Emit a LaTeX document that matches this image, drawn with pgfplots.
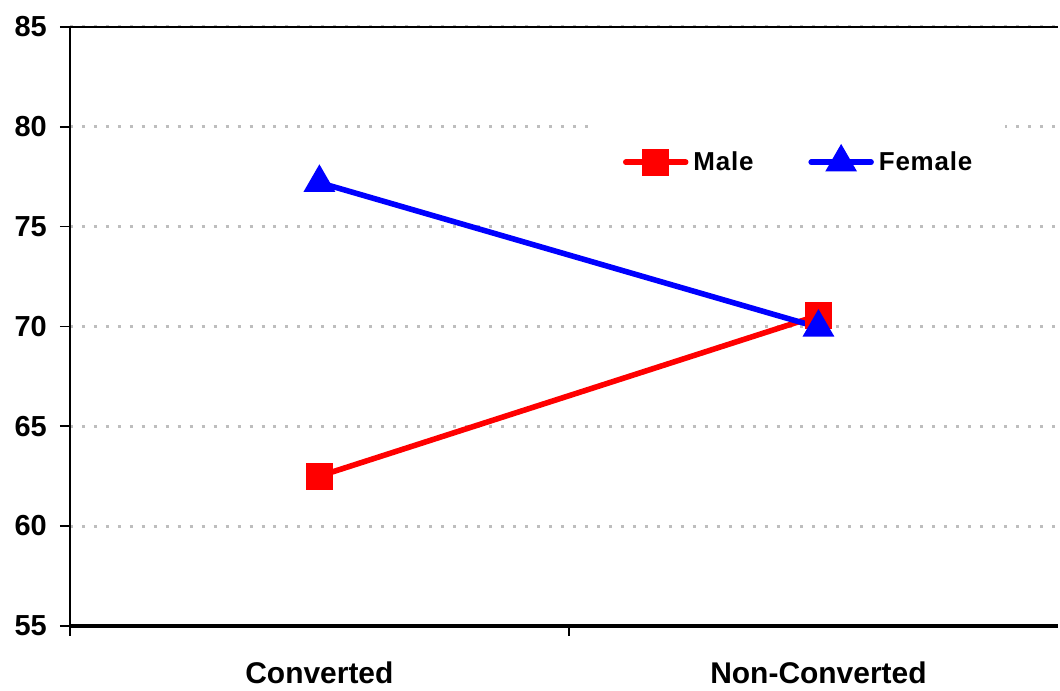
\documentclass[border=0pt]{standalone}
\usepackage{pgfplots}
\pgfplotsset{compat=1.18}
\usepackage{fontspec}
\setmainfont{Liberation Sans}
\definecolor{gridgray}{RGB}{190,190,190}
\begin{document}
\begin{tikzpicture}
\begin{axis}[
  name=ax,
  scale only axis,
  width=495pt, height=300pt,
  xmin=0, xmax=1.98,
  ymin=55, ymax=85,
  clip=false,
  axis x line=bottom, axis y line=left,
  x axis line style={-, line width=2pt},
  y axis line style={-, line width=1pt},
  ytick={55,60,...,85},
  xtick={0,1,2},
  xticklabels={},
  tick align=outside,
  major tick length=5pt,
  every tick/.style={black, line width=0.8pt},
  /pgf/number format/assume math mode=true,
  yticklabel style={font=\bfseries\fontsize{14.5}{14.5}\selectfont, xshift=-3pt},
  extra x ticks={0.5,1.5},
  extra x tick labels={Converted,Non-Converted},
  extra x tick style={major tick length=0pt, grid=none,
     tick label style={font=\bfseries\fontsize{15}{15}\selectfont, yshift=-14.5pt}},
  ymajorgrids,
  major grid style={gridgray, line width=1.5pt, dash pattern=on 1.5pt off 4.5pt},
  legend columns=2,
  legend style={at={(rel axis cs:0.739,0.774)}, anchor=center, draw=none, fill=white,
    inner xsep=14pt, inner ysep=12pt,
    font=\bfseries\fontsize{13}{13}\selectfont\addfontfeatures{LetterSpace=3},
    nodes={inner xsep=2.5pt},
    /tikz/every even column/.append style={column sep=25pt}},
  legend image code/.code={\draw[mark repeat=2,mark phase=2,#1] plot coordinates {(0pt,0pt) (15pt,0pt) (30pt,0pt)};},
]
\addplot[red, line width=2.8pt, line cap=round, mark=square*, mark size=5.4pt, mark options={solid, draw=none, fill=red}]
  coordinates {(0.5,62.5) (1.5,70.55)};
\addlegendentry{Male}
\addplot[blue, line width=2.8pt, line cap=round, mark=triangle*, mark size=6.4pt, mark options={solid, draw=none, fill=blue}]
  coordinates {(0.5,77.2) (1.5,69.95)};
\addlegendentry{Female}
\draw[black, line width=1pt] (axis cs:0,85) -- (axis cs:1.98,85);
\end{axis}
\path ([xshift=-35pt,yshift=-31pt]ax.south west) rectangle ([yshift=13.5pt]ax.north east);
\end{tikzpicture}
\end{document}
